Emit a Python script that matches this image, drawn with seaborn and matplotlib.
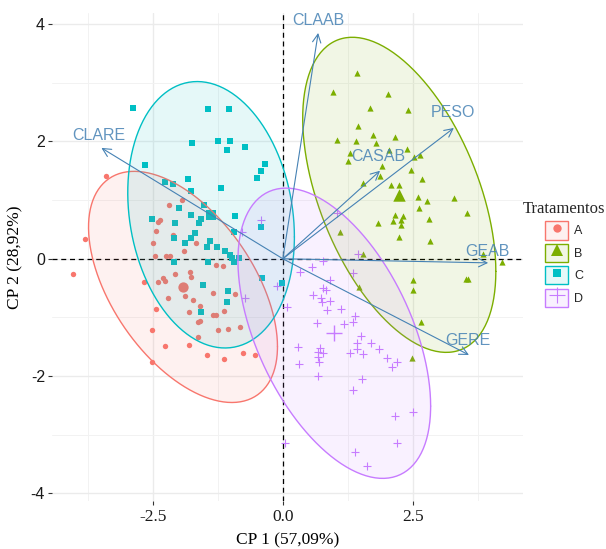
import numpy as np
import pandas as pd
import matplotlib
matplotlib.use("Agg")
import matplotlib.pyplot as plt
import seaborn as sns
from matplotlib.patches import Patch
from matplotlib.lines import Line2D
from matplotlib.legend_handler import HandlerTuple
from matplotlib.ticker import FixedLocator
from matplotlib.colors import to_rgba

# ---------------- data ----------------
groups = ["A", "B", "C", "D"]
colors = ["#F8766D", "#7CAE00", "#00BFC4", "#C77CFF"]
markers = ["o", "^", "s", "+"]

A_x = [-3.40, -3.80, -1.94, -2.19, -2.41, -2.37, -2.44, -2.11, -2.49, -1.67, -1.90, -2.46, -2.25, -2.17,
       -4.03, -2.67, -2.40, -2.30, -2.26, -2.07, -1.78, -1.76, -1.88, -2.21, -1.73, -1.59, -1.34, -1.28,
       -1.15, -0.92, -2.44, -1.80, -1.34, -1.28, -1.13, -1.63, -1.59, -2.51, -1.24, -1.05, -0.82, -1.63,
       -2.26, -1.80, -1.46, -1.13, -0.76, -0.53, -2.51]
A_y = [1.41, 0.34, 1.00, 0.92, 0.62, 0.66, 0.47, 0.41, 0.27, 0.27, 0.13, 0.04, 0.04, 0.04,
       -0.26, -0.40, -0.40, -0.33, -0.38, -0.26, -0.23, -0.31, -0.63, -0.67, -0.70, -0.81, -0.58, -0.11,
       -0.12, -0.60, -0.86, -0.91, -0.96, -0.96, -0.89, -1.08, -1.06, -1.22, -1.22, -1.20, -1.16, -1.33,
       -1.49, -1.47, -1.64, -1.71, -1.61, -1.64, -1.76]

B_x = [1.43, 0.97, 2.03, 1.68, 2.41, 1.45, 1.04, 1.41, 1.74, 2.16, 1.79, 1.29, 1.26, 2.04, 2.39, 2.53,
       2.64, 1.91, 1.87, 2.47, 2.68, 1.54, 2.08, 2.24, 2.60, 2.78, 3.29, 2.62, 3.54, 2.16, 2.31, 2.12,
       2.28, 2.81, 1.83, 2.28, 1.10, 2.24, 2.83, 1.54, 3.85, 4.22, 2.51, 2.51, 3.53, 3.56, 1.47, 2.66, 2.49]
B_y = [3.17, 2.85, 2.81, 2.57, 2.54, 2.27, 2.03, 2.01, 2.11, 2.08, 1.98, 1.81, 1.67, 1.86, 1.87, 1.74,
       1.77, 1.58, 1.41, 1.52, 1.36, 1.29, 1.26, 1.26, 1.05, 0.99, 1.04, 0.87, 0.78, 0.75, 0.73, 0.65,
       0.66, 0.68, 0.61, 0.58, 0.46, 0.37, 0.30, 0.08, 0.08, -0.05, -0.36, -0.53, -0.34, -0.34, -0.48, -1.08, -1.69]

C_x = [-2.88, -1.44, -1.03, -1.74, -1.24, -1.01, -1.07, -0.72, -0.34, -0.42, -0.49, -2.65, -2.26, -2.11,
       -1.82, -1.76, -1.19, -1.51, -1.99, -1.76, -1.57, -0.92, -2.51, -2.07, -1.61, -1.69, -0.94, -0.42,
       -2.09, -1.76, -1.88, -1.40, -1.46, -1.26, -1.11, -1.01, -0.98, -0.84, -2.09, -1.44, -0.94, -1.53,
       -1.05, -1.07, -1.57, -0.40, -0.01]
C_y = [2.57, 2.56, 2.56, 1.98, 2.01, 2.01, 1.86, 1.91, 1.62, 1.50, 1.38, 1.60, 1.31, 1.28,
       1.36, 1.16, 1.21, 0.92, 0.87, 0.75, 0.68, 0.73, 0.68, 0.61, 0.61, 0.44, 0.46, 0.54,
       0.35, 0.35, 0.27, 0.30, 0.20, 0.20, 0.13, 0.06, 0.01, 0.01, -0.05, -0.05, -0.05, -0.45,
       -0.55, -0.74, -0.91, -0.33, -0.41]

D_x = [-0.42, -0.78, 1.04, 1.45, 0.56, 0.78, 0.33, 0.91, 1.35, 0.78, 0.83, 0.58, 0.74, 0.76, 0.91, 0.08,
       0.85, 1.12, 1.39, 1.35, 0.66, 1.18, 1.51, 0.29, 0.72, 0.68, 0.78, 0.68, 0.70, 1.43, 1.70, 1.43,
       1.85, 1.29, 1.54, 2.01, 2.20, 2.10, 0.31, 0.68, 1.53, 1.35, 2.51, 2.16, 0.04, 2.20, 1.39, 1.62, -0.11, -0.72]
D_y = [0.66, 0.46, 0.78, 0.08, -0.14, -0.04, -0.23, -0.36, -0.24, -0.50, -0.53, -0.62, -0.67, -0.74, -0.72, -0.82,
       -0.87, -0.86, -0.98, -1.08, -1.10, -1.11, -1.32, -1.51, -1.52, -1.59, -1.61, -1.68, -1.76, -1.44, -1.44, -1.54,
       -1.54, -1.61, -1.62, -1.69, -1.76, -1.85, -1.80, -2.00, -2.05, -2.24, -2.61, -2.68, -3.14, -3.14, -3.30, -3.54,
       -0.46, -0.67]

# group means (drawn as larger points)
centroid_x = [-1.92, 2.24, -1.38, 0.99]
centroid_y = [-0.48, 1.09, 0.75, -1.27]

# variable loadings (arrows)
var_names = ["CLAAB", "PESO", "CASAB", "GEAB", "GERE", "CLARE"]
var_x = [0.68, 3.29, 1.87, 3.95, 3.58, -3.49]
var_y = [3.85, 2.23, 1.50, -0.07, -1.64, 1.89]
var_label_x = [0.68, 3.28, 1.83, 3.93, 3.56, -3.53]
var_label_y = [4.07, 2.49, 1.74, 0.13, -1.40, 2.11]

x_title = "CP 1 (57,09%)"
y_title = "CP 2 (28,92%)"
legend_title = "Tratamentos"
x_ticks = [-2.5, 0.0, 2.5]
x_ticklabels = ["-2.5", "0.0", "2.5"]
y_ticks = [-4, -2, 0, 2, 4]
y_ticklabels = ["-4", "-2", "0", "2", "4"]

df = pd.concat([
    pd.DataFrame({"x": A_x, "y": A_y, "g": "A"}),
    pd.DataFrame({"x": B_x, "y": B_y, "g": "B"}),
    pd.DataFrame({"x": C_x, "y": C_y, "g": "C"}),
    pd.DataFrame({"x": D_x, "y": D_y, "g": "D"}),
], ignore_index=True)
cent = pd.DataFrame({"x": centroid_x, "y": centroid_y, "g": groups})

# ---------------- figure ----------------
sns.set_theme(style="white")
SERIF = "Liberation Serif"
SANS = "Liberation Sans"
plt.rcParams["font.family"] = [SANS, "DejaVu Sans"]

W, H = 606, 549
fig = plt.figure(figsize=(W / 100, H / 100), dpi=100)
L, R, T, B = 52, 523, 13, 501
ax = fig.add_axes([L / W, 1 - B / H, (R - L) / W, (B - T) / H])
ax.set_facecolor("white")
for s in ax.spines.values():
    s.set_visible(False)

ax.set_xlim(-4.44, 4.62)
ax.set_ylim(-4.13, 4.19)

ax.xaxis.set_major_locator(FixedLocator(x_ticks))
ax.xaxis.set_minor_locator(FixedLocator([-3.75, -1.25, 1.25, 3.75]))
ax.yaxis.set_major_locator(FixedLocator(y_ticks))
ax.yaxis.set_minor_locator(FixedLocator([-3, -1, 1, 3]))
ax.set_xticklabels(x_ticklabels, fontfamily=SERIF, fontsize=12.5, color="#1a1a1a")
ax.set_yticklabels(y_ticklabels, fontfamily=SANS, fontsize=11.5, color="#1a1a1a")
ax.grid(True, which="major", color="#EBEBEB", lw=1.0, zorder=0)
ax.grid(True, which="minor", color="#F2F2F2", lw=0.7, zorder=0)
ax.set_axisbelow(True)
ax.tick_params(axis="both", which="major", length=3, width=0.8, color="#333333", pad=2,
               bottom=True, left=True)
ax.tick_params(axis="x", which="major", pad=3)
ax.tick_params(axis="both", which="minor", length=0)

ax.axhline(0, color="black", lw=0.9, ls=(0, (4, 3)), zorder=1)
ax.axvline(0, color="black", lw=0.9, ls=(0, (4, 3)), zorder=1)

small_sizes = {"o": 15, "^": 20, "s": 14, "+": 34}
big_sizes = {"o": 55, "^": 80, "s": 55, "+": 140}

for g, c, m in zip(groups, colors, markers):
    sub = df[df["g"] == g]
    csub = cent[cent["g"] == g]
    if m == "+":
        sns.scatterplot(data=sub, x="x", y="y", marker=m, color=c, s=small_sizes[m],
                        linewidth=0.8, ax=ax, legend=False, zorder=3)
        sns.scatterplot(data=csub, x="x", y="y", marker=m, color=c, s=big_sizes[m],
                        linewidth=1.0, ax=ax, legend=False, zorder=3)
    else:
        sns.scatterplot(data=sub, x="x", y="y", marker=m, color=c, s=small_sizes[m],
                        linewidth=0, ax=ax, legend=False, zorder=3)
        sns.scatterplot(data=csub, x="x", y="y", marker=m, color=c, s=big_sizes[m],
                        linewidth=0, ax=ax, legend=False, zorder=3)


def ellipse_xy(x, y, cx, cy, level=0.95, npts=240):
    x = np.asarray(x)
    y = np.asarray(y)
    n = len(x)
    cov = np.cov(x, y)
    m = n - 1
    q = (m / 2.0) * ((1 - level) ** (-2.0 / m) - 1)   # F(2, n-1) quantile
    r = np.sqrt(2 * q)
    t = np.linspace(0, 2 * np.pi, npts)
    circ = np.vstack([np.cos(t), np.sin(t)])
    Lc = np.linalg.cholesky(cov)
    pts = (Lc @ circ) * r
    return cx + pts[0], cy + pts[1]


for g, c, cx, cy in zip(groups, colors, centroid_x, centroid_y):
    sub = df[df["g"] == g]
    ex, ey = ellipse_xy(sub["x"], sub["y"], cx, cy)
    ax.fill(ex, ey, facecolor=to_rgba(c, 0.1), edgecolor="none", zorder=4)
    ax.plot(ex, ey, color=c, lw=1.0, zorder=4)

arrow_col = "#4682B4"
for name, vx, vy, lx, ly in zip(var_names, var_x, var_y, var_label_x, var_label_y):
    ax.annotate("", xy=(vx, vy), xytext=(0, 0),
                arrowprops=dict(arrowstyle="->,head_length=0.6,head_width=0.3",
                                color=arrow_col, lw=0.8, shrinkA=0, shrinkB=0,
                                mutation_scale=10), zorder=5)
    ax.text(lx, ly, name, color=arrow_col, alpha=0.85, fontsize=11.5, fontfamily=SANS,
            ha="center", va="center", zorder=6)

ax.set_xlabel(x_title, fontfamily=SERIF, fontsize=12.5, color="black", labelpad=5)
ax.set_ylabel(y_title, fontfamily=SERIF, fontsize=12.5, color="black", labelpad=5)

handles = []
leg_ms = {"o": 6, "^": 8, "s": 6, "+": 11}
for g, c, m in zip(groups, colors, markers):
    rect = Patch(facecolor=to_rgba(c, 0.1), edgecolor=c, linewidth=1.0)
    mk = Line2D([], [], marker=m, color=c, linestyle="none", markersize=leg_ms[m],
                markeredgewidth=0.8 if m == "+" else 0)
    handles.append((rect, mk))

leg = fig.legend(handles, groups, handler_map={tuple: HandlerTuple(ndivide=1, pad=0)},
                 loc="center left", bbox_to_anchor=(523 / W, 1 - 254 / H), frameon=False,
                 title=legend_title,
                 prop={"family": SANS, "size": 9},
                 title_fontproperties={"family": SERIF, "size": 12},
                 handlelength=1.85, handleheight=1.85, labelspacing=0.35,
                 handletextpad=0.5, borderpad=0, borderaxespad=0)

fig.savefig("out.png", dpi=100, facecolor="white")
